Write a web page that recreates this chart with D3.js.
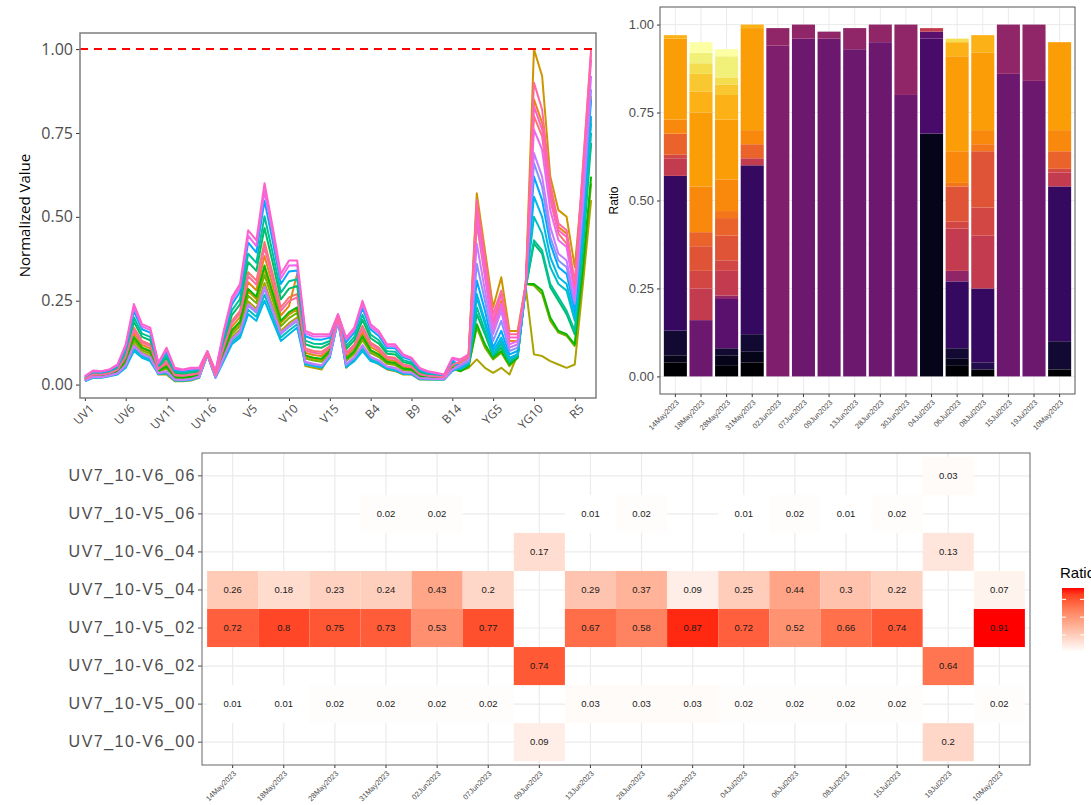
<!DOCTYPE html>
<html>
<head>
<meta charset="utf-8">
<script src="https://cdn.jsdelivr.net/npm/d3@7"></script>
<style>
  body { margin: 0; background: #fff; }
  svg text { font-family: "Liberation Sans", Arial, sans-serif; }
</style>
</head>
<body>
<svg id="fig" width="1091" height="805"></svg>
<script>
// ---------- data ----------
// sampling dates (same order in all three panels)
var dates = ["14May2023","18May2023","28May2023","31May2023","02Jun2023","07Jun2023","09Jun2023","13Jun2023",
             "28Jun2023","30Jun2023","04Jul2023","06Jul2023","08Jul2023","15Jul2023","19Jul2023","10May2023"];

// spectral bands on the x axis of the line chart
var bands = [];
[["UV",16],["V",16],["B",14],["YG",10],["R",7]].forEach(function (p) {
    for (var i = 1; i <= p[1]; i++) bands.push(p[0] + i);
});
var bandTicks = ["UV1","UV6","UV11","UV16","V5","V10","V15","B4","B9","B14","YG5","YG10","R5"];
var lineTicks = [0, 0.25, 0.5, 0.75, 1];

// normalized value per band, one array per date
var nv14May = [.018,.031,.030,.035,.045,.085,.170,.130,.120,.048,.070,.030,.028,.031,.035,.094,.030,.115,.190,.220,.335,.310,.425,.330,.230,.260,.270,.108,.100,.098,.115,.200,.095,.120,.175,.125,.110,.083,.080,.060,.055,.033,.028,.025,.023,.060,
               .06,.075,.48,.32,.16,.23,.11,.12,.29,.80,.74,.55,.45,.42,.28,.50,.72];
var nv18May = [.016,.028,.028,.033,.041,.077,.153,.118,.108,.043,.060,.025,.023,.026,.031,.093,.028,.104,.173,.201,.305,.281,.383,.296,.206,.234,.330,.095,.088,.085,.107,.198,.084,.108,.157,.112,.098,.074,.070,.053,.049,.028,.025,.023,.021,.055,
               .065,.08,.50,.34,.18,.25,.13,.13,.29,.85,.78,.58,.47,.45,.30,.56,.80];
var nv28May = [.014,.026,.025,.030,.038,.069,.138,.107,.097,.039,.052,.021,.019,.022,.028,.091,.025,.094,.158,.183,.278,.255,.345,.266,.184,.209,.224,.083,.077,.073,.099,.195,.074,.097,.141,.100,.087,.065,.062,.046,.044,.024,.022,.020,.019,.051,
               .07,.09,.57,.40,.23,.32,.16,.16,.30,1.00,.92,.62,.52,.50,.35,.62,.86];
var nv31May = [.012,.023,.023,.028,.035,.061,.121,.095,.085,.030,.030,.010,.010,.012,.020,.090,.023,.084,.141,.164,.248,.226,.303,.232,.160,.183,.200,.055,.050,.045,.085,.193,.050,.075,.115,.075,.060,.045,.040,.030,.030,.015,.015,.015,.015,.046,
               .04,.05,.075,.05,.035,.05,.03,.09,.29,.09,.085,.07,.06,.05,.06,.30,.55];
var nv02Jun = [.013,.025,.024,.029,.037,.065,.131,.102,.092,.038,.048,.019,.018,.020,.027,.091,.024,.090,.151,.175,.265,.243,.327,.252,.174,.198,.214,.078,.072,.068,.095,.194,.070,.092,.133,.094,.082,.062,.058,.043,.041,.023,.021,.019,.018,.049,
               .04,.055,.17,.11,.075,.095,.055,.08,.30,.295,.27,.19,.155,.145,.115,.33,.60];
var nv07Jun = [.015,.027,.026,.031,.039,.071,.142,.110,.100,.041,.054,.022,.021,.023,.029,.092,.026,.097,.162,.188,.285,.262,.355,.274,.190,.216,.230,.087,.080,.077,.101,.196,.077,.100,.145,.103,.090,.068,.064,.048,.045,.026,.023,.021,.020,.052,
               .04,.055,.18,.12,.08,.10,.06,.08,.30,.30,.28,.20,.16,.15,.12,.35,.62];
var nv09Jun = [.019,.034,.032,.037,.049,.093,.187,.142,.132,.052,.080,.035,.032,.036,.039,.095,.032,.126,.207,.239,.365,.339,.467,.364,.254,.286,.294,.120,.112,.110,.123,.202,.106,.132,.193,.138,.122,.092,.090,.067,.061,.037,.031,.027,.024,.065,
               .045,.06,.21,.15,.085,.11,.065,.085,.29,.42,.39,.29,.25,.21,.15,.40,.72];
var nv13Jun = [.021,.036,.034,.039,.052,.100,.201,.152,.142,.055,.088,.039,.035,.039,.042,.097,.034,.135,.221,.255,.390,.363,.502,.392,.274,.308,.314,.131,.122,.121,.130,.204,.115,.142,.208,.149,.132,.099,.098,.073,.066,.040,.033,.029,.026,.069,
               .045,.06,.23,.16,.09,.12,.07,.085,.29,.43,.40,.30,.26,.22,.16,.42,.75];
var nv28Jun = [.011,.021,.021,.026,.032,.054,.107,.085,.075,.032,.034,.012,.012,.014,.022,.089,.021,.075,.127,.148,.223,.202,.268,.204,.140,.161,.180,.062,.057,.052,.084,.191,.055,.075,.108,.076,.065,.049,.044,.033,.033,.017,.016,.016,.016,.042,
               .05,.065,.26,.18,.09,.13,.075,.09,.29,.50,.45,.35,.30,.28,.19,.45,.78];
var nv30Jun = [.010,.020,.020,.025,.030,.050,.100,.080,.070,.031,.036,.013,.012,.014,.022,.088,.020,.070,.120,.140,.210,.190,.250,.190,.130,.150,.170,.060,.055,.050,.080,.190,.052,.070,.100,.070,.062,.047,.042,.032,.031,.016,.016,.015,.015,.040,
               .05,.065,.27,.19,.10,.14,.08,.09,.29,.56,.50,.38,.32,.30,.20,.47,.80];
var nv04Jul = [.023,.039,.037,.042,.056,.110,.219,.165,.155,.060,.098,.044,.040,.044,.046,.098,.037,.147,.239,.276,.423,.394,.548,.428,.300,.337,.340,.144,.135,.134,.140,.207,.127,.155,.228,.164,.145,.109,.108,.081,.073,.045,.036,.032,.028,.074,
               .05,.07,.31,.22,.11,.16,.09,.10,.29,.62,.55,.42,.35,.33,.22,.50,.85];
var nv06Jul = [.012,.022,.022,.027,.033,.057,.114,.090,.080,.034,.038,.014,.014,.016,.023,.089,.022,.079,.134,.156,.235,.214,.285,.218,.150,.172,.190,.066,.060,.056,.087,.192,.059,.080,.115,.081,.070,.053,.048,.036,.035,.019,.018,.017,.017,.044,
               .055,.07,.36,.25,.13,.19,.10,.11,.29,.66,.59,.44,.37,.35,.24,.52,.88];
var nv08Jul = [.012,.023,.022,.027,.034,.058,.117,.092,.082,.034,.040,.015,.014,.017,.024,.089,.022,.081,.137,.159,.240,.219,.292,.224,.154,.176,.194,.068,.062,.058,.088,.192,.061,.082,.118,.083,.072,.054,.050,.037,.036,.019,.018,.017,.017,.045,
               .06,.075,.42,.28,.15,.22,.11,.12,.30,.69,.62,.47,.39,.37,.25,.55,.92];
var nv15Jul = [.024,.040,.039,.044,.058,.115,.230,.173,.163,.063,.104,.047,.043,.047,.048,.099,.039,.154,.250,.289,.443,.413,.576,.450,.316,.355,.356,.153,.143,.143,.145,.209,.134,.163,.240,.172,.153,.115,.114,.086,.077,.048,.038,.034,.029,.077,
               .07,.085,.50,.33,.17,.24,.12,.13,.30,.76,.70,.52,.43,.41,.27,.60,.97];
var nv19Jul = [.025,.042,.040,.045,.060,.120,.240,.180,.170,.065,.110,.050,.045,.050,.050,.100,.040,.160,.260,.300,.460,.430,.600,.470,.330,.370,.370,.160,.150,.150,.150,.210,.140,.170,.250,.180,.160,.120,.120,.090,.080,.050,.040,.035,.030,.080,
               .075,.09,.53,.36,.19,.27,.14,.14,.30,.83,.76,.56,.46,.44,.29,.64,.99];
var nv10May = [.017,.030,.029,.034,.044,.082,.163,.125,.115,.046,.066,.028,.026,.029,.034,.093,.029,.111,.183,.212,.323,.298,.408,.316,.220,.249,.260,.102,.095,.092,.112,.199,.091,.115,.168,.120,.105,.079,.076,.057,.053,.031,.026,.024,.022,.058,
               .07,.085,.55,.38,.21,.28,.15,.15,.30,.90,.82,.60,.48,.46,.30,.65,1.00];
var lineSeries = [nv14May,nv18May,nv28May,nv31May,nv02Jun,nv07Jun,nv09Jun,nv13Jun,nv28Jun,nv30Jun,nv04Jul,nv06Jul,nv08Jul,nv15Jul,nv19Jul,nv10May];
// ggplot default hue palette for 16 groups
var hue16 = ["#F8766D","#E68613","#CD9600","#ABA300","#7CAE00","#0CB702","#00BE67","#00C19A",
             "#00BFC4","#00B8E7","#00A9FF","#8494FF","#C77CFF","#ED68ED","#FF61CC","#FF68A1"];

// stacked ratio per date: [group index, ratio]; 24 groups coloured along inferno
var nGroups = 24;
var barStacks = [
    [[0,.04],[1,.02],[2,.07],[4,.44],[12,.05],[13,.01],[15,.06],[17,.04],[18,.23],[19,.01]],                                   // 14May
    [[7,.16],[12,.09],[13,.05],[14,.07],[15,.04],[17,.13],[18,.21],[19,.06],[20,.05],[21,.03],[22,.03],[23,.03]],             // 18May
    [[0,.03],[1,.03],[2,.02],[6,.14],[9,.01],[12,.07],[13,.03],[14,.07],[15,.05],[16,.02],[17,.09],[18,.17],[19,.07],[20,.03],[21,.02],[22,.06],[23,.02]], // 28May
    [[0,.04],[1,.03],[2,.05],[4,.48],[12,.02],[15,.04],[17,.04],[18,.29],[19,.01]],                                           // 31May
    [[8,.94],[9,.05]],                                                                                                       // 02Jun
    [[7,.96],[9,.04]],
    [[7,.96],[9,.02]],
    [[7,.93],[9,.06]],
    [[7,.95],[9,.05]],
    [[7,.80],[9,.20]],
    [[1,.69],[5,.27],[6,.02],[12,.01]],                                                                                      // 04Jul
    [[0,.03],[1,.02],[2,.03],[4,.19],[9,.03],[12,.12],[13,.02],[14,.10],[16,.01],[17,.09],[18,.27],[19,.04],[21,.01]],        // 06Jul
    [[0,.02],[3,.02],[4,.21],[12,.15],[13,.08],[14,.16],[16,.02],[17,.04],[18,.22],[19,.05]],                                 // 08Jul
    [[7,.86],[9,.14]],
    [[7,.84],[9,.16]],
    [[0,.02],[2,.08],[4,.44],[12,.04],[13,.01],[15,.05],[17,.06],[18,.25]]                                                    // 10May
];
var barTicks = [0, 0.25, 0.5, 0.75, 1];

// heatmap: combination rows (top to bottom), null = no tile
var heatRows = ["UV7_10-V6_06","UV7_10-V5_06","UV7_10-V6_04","UV7_10-V5_04","UV7_10-V5_02","UV7_10-V6_02","UV7_10-V5_00","UV7_10-V6_00"];
var hV6_06 = [null,null,null,null,null,null,null,null,null,null,null,null,null,null,.03,null];
var hV5_06 = [null,null,null,.02,.02,null,null,.01,.02,null,.01,.02,.01,.02,null,null];
var hV6_04 = [null,null,null,null,null,null,.17,null,null,null,null,null,null,null,.13,null];
var hV5_04 = [.26,.18,.23,.24,.43,.2,null,.29,.37,.09,.25,.44,.3,.22,null,.07];
var hV5_02 = [.72,.8,.75,.73,.53,.77,null,.67,.58,.87,.72,.52,.66,.74,null,.91];
var hV6_02 = [null,null,null,null,null,null,.74,null,null,null,null,null,null,null,.64,null];
var hV5_00 = [.01,.01,.02,.02,.02,.02,null,.03,.03,.03,.02,.02,.02,.02,null,.02];
var hV6_00 = [null,null,null,null,null,null,.09,null,null,null,null,null,null,null,.2,null];
var heatValues = [hV6_06,hV5_06,hV6_04,hV5_04,hV5_02,hV6_02,hV5_00,hV6_00];

var svg = d3.select("#fig");

// rotated ggplot style x labels
function rotLabels(sel, size) {
    sel.selectAll(".tick text")
        .attr("x", 0).attr("y", 0).attr("dy", "0.75em")
        .attr("transform", "translate(0,5) rotate(-45)")
        .attr("text-anchor", "end")
        .attr("font-size", size).attr("fill", "#4d4d4d");
}

// ---------- 1. line chart ----------
var lc = {l: 80, r: 596, t: 33, b: 398};
var xL = d3.scalePoint().domain(bands).range([lc.l, lc.r]).padding(0.6);
var yL = d3.scaleLinear().domain([-0.04, 1.048]).range([lc.b, lc.t]);
var gL = svg.append("g");

var line = d3.line()
    .x(function (d, i) { return xL(bands[i]); })
    .y(function (d) { return yL(d); });

gL.selectAll("path.nv").data(lineSeries).join("path")
    .attr("class", "nv")
    .attr("d", line)
    .attr("fill", "none")
    .attr("stroke", function (d, i) { return hue16[i]; })
    .attr("stroke-width", 2)
    .attr("stroke-linejoin", "round");

gL.append("line")
    .attr("x1", lc.l).attr("x2", lc.r)
    .attr("y1", yL(1)).attr("y2", yL(1))
    .attr("stroke", "#ff0000").attr("stroke-width", 2).attr("stroke-dasharray", "8,6");

var yAxL = gL.append("g").attr("transform", "translate(" + lc.l + ",0)")
    .call(d3.axisLeft(yL).tickValues(lineTicks).tickFormat(d3.format(".2f")).tickSize(4).tickPadding(3));
yAxL.select(".domain").remove();
yAxL.selectAll(".tick line").attr("stroke", "#333");
yAxL.selectAll(".tick text").style("font-family", "'Open Sans'").attr("font-size", 16).attr("fill", "#4d4d4d");

var xAxL = gL.append("g").attr("transform", "translate(0," + lc.b + ")")
    .call(d3.axisBottom(xL).tickValues(bandTicks).tickSize(3));
xAxL.select(".domain").remove();
xAxL.selectAll(".tick line").attr("stroke", "#333");
rotLabels(xAxL, 12);
xAxL.selectAll(".tick text").style("font-family", "'Open Sans'").attr("transform", "translate(3,5) rotate(-45)");

gL.append("rect")
    .attr("x", lc.l).attr("y", lc.t).attr("width", lc.r - lc.l).attr("height", lc.b - lc.t)
    .attr("fill", "none").attr("stroke", "#7f7f7f").attr("stroke-width", 1.5);

gL.append("text")
    .attr("transform", "translate(30," + (lc.t + lc.b) / 2 + ") rotate(-90)")
    .attr("text-anchor", "middle")
    .style("font-family", "'Open Sans'").attr("font-size", 15)
    .text("Normalized Value");

// ---------- 2. stacked bars ----------
var bc = {l: 660, r: 1075, t: 7, b: 394};
var xB = d3.scaleBand().domain(dates).range([bc.l, bc.r]).paddingInner(0.1).paddingOuter(0.15);
var yB = d3.scaleLinear().domain([-0.05, 1.05]).range([bc.b, bc.t]);
var gB = svg.append("g");
var keys = d3.range(nGroups);

// wide table for d3.stack
var barRows = dates.map(function (dt, i) {
    var row = {date: dt};
    keys.forEach(function (k) { row[k] = 0; });
    barStacks[i].forEach(function (s) { row[s[0]] = s[1]; });
    return row;
});
var stacked = d3.stack().keys(keys)(barRows);
var inferno = d3.scaleSequential(d3.interpolateInferno).domain([0, nGroups - 1]);

// grid
gB.selectAll("line.minor").data([0.125, 0.375, 0.625, 0.875]).join("line")
    .attr("x1", bc.l).attr("x2", bc.r).attr("y1", yB).attr("y2", yB)
    .attr("stroke", "#f2f2f2").attr("stroke-width", 0.6);
gB.selectAll("line.hmaj").data(barTicks).join("line")
    .attr("x1", bc.l).attr("x2", bc.r).attr("y1", yB).attr("y2", yB)
    .attr("stroke", "#ebebeb").attr("stroke-width", 1);
gB.selectAll("line.vmaj").data(dates).join("line")
    .attr("y1", bc.t).attr("y2", bc.b)
    .attr("x1", function (d) { return xB(d) + xB.bandwidth() / 2; })
    .attr("x2", function (d) { return xB(d) + xB.bandwidth() / 2; })
    .attr("stroke", "#ebebeb").attr("stroke-width", 1);

gB.selectAll("g.layer").data(stacked).join("g")
    .attr("class", "layer")
    .attr("fill", function (d) { return inferno(d.key); })
    .selectAll("rect").data(function (d) { return d.filter(function (s) { return s[1] > s[0]; }); }).join("rect")
    .attr("x", function (d) { return xB(d.data.date); })
    .attr("width", xB.bandwidth())
    .attr("y", function (d) { return yB(d[1]); })
    .attr("height", function (d) { return yB(d[0]) - yB(d[1]); });

var yAxB = gB.append("g").attr("transform", "translate(" + bc.l + ",0)")
    .call(d3.axisLeft(yB).tickValues(barTicks).tickFormat(d3.format(".2f")).tickSize(3).tickPadding(3));
yAxB.select(".domain").remove();
yAxB.selectAll(".tick line").attr("stroke", "#333");
yAxB.selectAll(".tick text").attr("font-size", 13).attr("fill", "#4d4d4d");

var xAxB = gB.append("g").attr("transform", "translate(0," + bc.b + ")")
    .call(d3.axisBottom(xB).tickSize(3));
xAxB.select(".domain").remove();
xAxB.selectAll(".tick line").attr("stroke", "#333");
rotLabels(xAxB, 7.5);

gB.append("rect")
    .attr("x", bc.l).attr("y", bc.t).attr("width", bc.r - bc.l).attr("height", bc.b - bc.t)
    .attr("fill", "none").attr("stroke", "#555").attr("stroke-width", 1);

gB.append("text")
    .attr("transform", "translate(618," + (bc.t + bc.b) / 2 + ") rotate(-90)")
    .attr("text-anchor", "middle").attr("font-size", 12)
    .text("Ratio");

// ---------- 3. heatmap ----------
var hc = {l: 202, r: 1030, t: 453, b: 765};
var xH = d3.scaleBand().domain(dates).range([hc.l, hc.r]).paddingOuter(0.1);
var yH = d3.scaleBand().domain(heatRows).range([hc.t, hc.b]).paddingOuter(0.1);
var vmin = d3.min(heatValues, function (r) { return d3.min(r); });
var vmax = d3.max(heatValues, function (r) { return d3.max(r); });
var fillH = d3.scaleLinear().domain([vmin, vmax]).range(["#ffffff", "#ff0000"]).interpolate(d3.interpolateLab);
var gH = svg.append("g");

var cells = [];
heatRows.forEach(function (r, ri) {
    heatValues[ri].forEach(function (v, ci) {
        if (v != null) cells.push({row: r, date: dates[ci], value: v});
    });
});

gH.selectAll("line.hv").data(dates).join("line")
    .attr("y1", hc.t).attr("y2", hc.b)
    .attr("x1", function (d) { return xH(d) + xH.bandwidth() / 2; })
    .attr("x2", function (d) { return xH(d) + xH.bandwidth() / 2; })
    .attr("stroke", "#ebebeb").attr("stroke-width", 1.2);
gH.selectAll("line.hh").data(heatRows).join("line")
    .attr("x1", hc.l).attr("x2", hc.r)
    .attr("y1", function (d) { return yH(d) + yH.bandwidth() / 2; })
    .attr("y2", function (d) { return yH(d) + yH.bandwidth() / 2; })
    .attr("stroke", "#ebebeb").attr("stroke-width", 1.2);

gH.selectAll("rect.cell").data(cells).join("rect")
    .attr("class", "cell")
    .attr("x", function (d) { return xH(d.date); })
    .attr("y", function (d) { return yH(d.row); })
    .attr("width", xH.bandwidth()).attr("height", yH.bandwidth())
    .attr("fill", function (d) { return fillH(d.value); });

gH.selectAll("text.val").data(cells).join("text")
    .attr("class", "val")
    .attr("x", function (d) { return xH(d.date) + xH.bandwidth() / 2; })
    .attr("y", function (d) { return yH(d.row) + yH.bandwidth() / 2; })
    .attr("dy", "0.35em").attr("text-anchor", "middle")
    .attr("font-size", 9.5).attr("fill", "#1a1a1a")
    .text(function (d) { return String(d.value); });

var yAxH = gH.append("g").attr("transform", "translate(" + hc.l + ",0)")
    .call(d3.axisLeft(yH).tickSize(4).tickPadding(2));
yAxH.select(".domain").remove();
yAxH.selectAll(".tick line").attr("stroke", "#4d4d4d");
yAxH.selectAll(".tick text").attr("font-size", 16).attr("letter-spacing", 1.5).attr("fill", "#4d4d4d");

var xAxH = gH.append("g").attr("transform", "translate(0," + hc.b + ")")
    .call(d3.axisBottom(xH).tickSize(3));
xAxH.select(".domain").remove();
xAxH.selectAll(".tick line").attr("stroke", "#333");
rotLabels(xAxH, 7.5);

gH.append("rect")
    .attr("x", hc.l).attr("y", hc.t).attr("width", hc.r - hc.l).attr("height", hc.b - hc.t)
    .attr("fill", "none").attr("stroke", "#666").attr("stroke-width", 1);

// legend (cut by the right edge like the original)
var leg = {x: 1062, y: 588, w: 22, h: 64};
var grad = svg.append("defs").append("linearGradient")
    .attr("id", "hg").attr("x1", 0).attr("x2", 0).attr("y1", 1).attr("y2", 0);
d3.range(0, 1.01, 0.1).forEach(function (t) {
    grad.append("stop").attr("offset", t).attr("stop-color", fillH(vmin + t * (vmax - vmin)));
});
svg.append("text").attr("x", 1060).attr("y", 578).attr("font-size", 15).text("Ratio");
svg.append("rect").attr("x", leg.x).attr("y", leg.y).attr("width", leg.w).attr("height", leg.h)
    .attr("fill", "url(#hg)");
var yLeg = d3.scaleLinear().domain([vmin, vmax]).range([leg.y + leg.h, leg.y]);
[0.25, 0.5, 0.75].forEach(function (v) {
    svg.append("line").attr("x1", leg.x).attr("x2", leg.x + 4).attr("y1", yLeg(v)).attr("y2", yLeg(v))
        .attr("stroke", "#fff").attr("stroke-width", 1);
    svg.append("line").attr("x1", leg.x + leg.w - 4).attr("x2", leg.x + leg.w).attr("y1", yLeg(v)).attr("y2", yLeg(v))
        .attr("stroke", "#fff").attr("stroke-width", 1);
});
</script>
</body>
</html>
